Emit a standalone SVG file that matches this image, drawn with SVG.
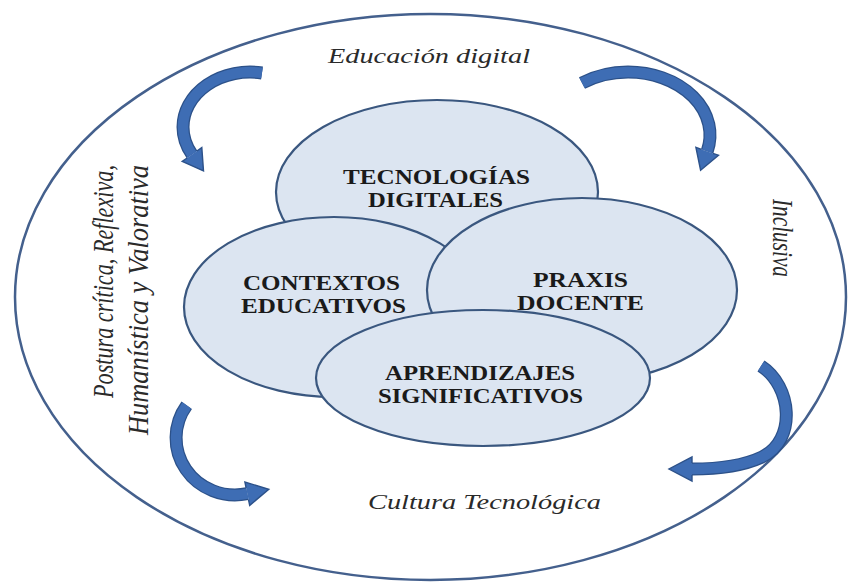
<svg xmlns="http://www.w3.org/2000/svg" width="849" height="583" viewBox="0 0 849 583">
<defs>
<style>
.bg{fill:#ffffff}
.outer{fill:none;stroke:#44608D;stroke-width:2.5}
.bub{fill:#DCE5F1;stroke:#3A577F;stroke-width:2.2}
.in{font-family:'Liberation Serif',serif;font-weight:700;font-size:20px;fill:#1a1a1a;text-anchor:middle}
.it{font-family:'Liberation Serif',serif;font-style:italic;font-size:22px;fill:#2a2a2a}
.bandO{fill:none;stroke:#2C5189;stroke-width:13;stroke-linecap:butt}
.bandF{fill:none;stroke:#3E6DB4;stroke-width:10.5;stroke-linecap:butt}
.head{fill:#3E6DB4;stroke:none}
.headO{fill:none;stroke:#2C5189;stroke-width:1.4;stroke-linejoin:miter}
</style>
</defs>
<rect class="bg" x="0" y="0" width="849" height="583"/>

<g id="outer-frame">
<ellipse class="outer" cx="430.5" cy="297" rx="415.5" ry="283"/>
<text class="it" font-family="Liberation Serif, serif" x="429" y="63" text-anchor="middle" textLength="202" lengthAdjust="spacingAndGlyphs">Educación digital</text>
<text class="it" font-family="Liberation Serif, serif" x="484.5" y="509" text-anchor="middle" textLength="233" lengthAdjust="spacingAndGlyphs">Cultura Tecnológica</text>
<text class="it" font-family="Liberation Serif, serif" transform="translate(773,199) scale(1.34,1) rotate(90)" x="0" y="0" textLength="78" lengthAdjust="spacingAndGlyphs">Inclusiva</text>
<text class="it" font-family="Liberation Serif, serif" transform="translate(112.5,398) scale(1.34,1) rotate(-90)" x="0" y="0" textLength="233" lengthAdjust="spacingAndGlyphs">Postura crítica,  Reflexiva,</text>
<text class="it" font-family="Liberation Serif, serif" transform="translate(147.5,435) scale(1.34,1) rotate(-90)" x="0" y="0" textLength="270" lengthAdjust="spacingAndGlyphs">Humanística y Valorativa</text>
</g>

<g id="connectors">
<g id="arrow-top-left">
<path class="bandO" d="M 262,73 A 67 55 0 0 0 183,127 A 67 55 0 0 0 192,154.5"/>
<path class="bandF" d="M 262,73 A 67 55 0 0 0 183,127 A 67 55 0 0 0 192,154.5"/>
<polygon class="head" points="201.8,147.6 203.5,170.9 182.2,161.4"/>
<path class="headO" d="M 196.9,151 L 201.8,147.6 L 203.5,170.9 L 182.2,161.4 L 187.1,158"/>
</g>
<g id="arrow-top-right">
<path class="bandO" d="M 582,83 A 82 63 0 0 1 628,72 A 82 63 0 0 1 707.2,151.3"/>
<path class="bandF" d="M 582,83 A 82 63 0 0 1 628,72 A 82 63 0 0 1 707.2,151.3"/>
<polygon class="head" points="718.5,155.2 700.6,170.2 695.9,147.4"/>
<path class="headO" d="M 712.9,153.3 L 718.5,155.2 L 700.6,170.2 L 695.9,147.4 L 701.5,149.3"/>
</g>
<g id="arrow-bottom-left">
<path class="bandO" d="M 186.7,405.3 A 59 57 0 0 0 247.3,493.7"/>
<path class="bandF" d="M 186.7,405.3 A 59 57 0 0 0 247.3,493.7"/>
<polygon class="head" points="249.7,505.4 268.8,489.3 244.9,482"/>
<path class="headO" d="M 248.5,499.6 L 249.7,505.4 L 268.8,489.3 L 244.9,482 L 246.1,487.8"/>
</g>
<g id="arrow-bottom-right">
<path class="bandO" d="M 761,366 C 792,386 797,440 762,457 C 745,465 718,469 692,469"/>
<path class="bandF" d="M 761,366 C 792,386 797,440 762,457 C 745,465 718,469 692,469"/>
<polygon class="head" points="692,457 669,469 692,481"/>
<path class="headO" d="M 692,463 L 692,457 L 669,469 L 692,481 L 692,475"/>
</g>
</g>

<g id="node-tecnologias">
<ellipse class="bub" cx="437" cy="192" rx="161" ry="92"/>
<text class="in" font-family="Liberation Serif, serif" x="436.5" y="184" textLength="187" lengthAdjust="spacingAndGlyphs">TECNOLOGÍAS</text>
<text class="in" font-family="Liberation Serif, serif" x="435.5" y="207" textLength="135" lengthAdjust="spacingAndGlyphs">DIGITALES</text>
</g>
<g id="node-contextos">
<ellipse class="bub" cx="334" cy="307" rx="150" ry="90"/>
<text class="in" font-family="Liberation Serif, serif" x="321.5" y="290" textLength="157" lengthAdjust="spacingAndGlyphs">CONTEXTOS</text>
<text class="in" font-family="Liberation Serif, serif" x="323.5" y="313" textLength="165" lengthAdjust="spacingAndGlyphs">EDUCATIVOS</text>
</g>
<g id="node-praxis">
<ellipse class="bub" cx="582" cy="290" rx="155" ry="92"/>
<text class="in" font-family="Liberation Serif, serif" x="580.5" y="287" textLength="95" lengthAdjust="spacingAndGlyphs">PRAXIS</text>
<text class="in" font-family="Liberation Serif, serif" x="580.5" y="310" textLength="127" lengthAdjust="spacingAndGlyphs">DOCENTE</text>
</g>
<g id="node-aprendizajes">
<ellipse class="bub" cx="483" cy="378" rx="167" ry="68"/>
<text class="in" font-family="Liberation Serif, serif" x="480" y="380" textLength="190" lengthAdjust="spacingAndGlyphs">APRENDIZAJES</text>
<text class="in" font-family="Liberation Serif, serif" x="480.5" y="403" textLength="205" lengthAdjust="spacingAndGlyphs">SIGNIFICATIVOS</text>
</g>
</svg>
